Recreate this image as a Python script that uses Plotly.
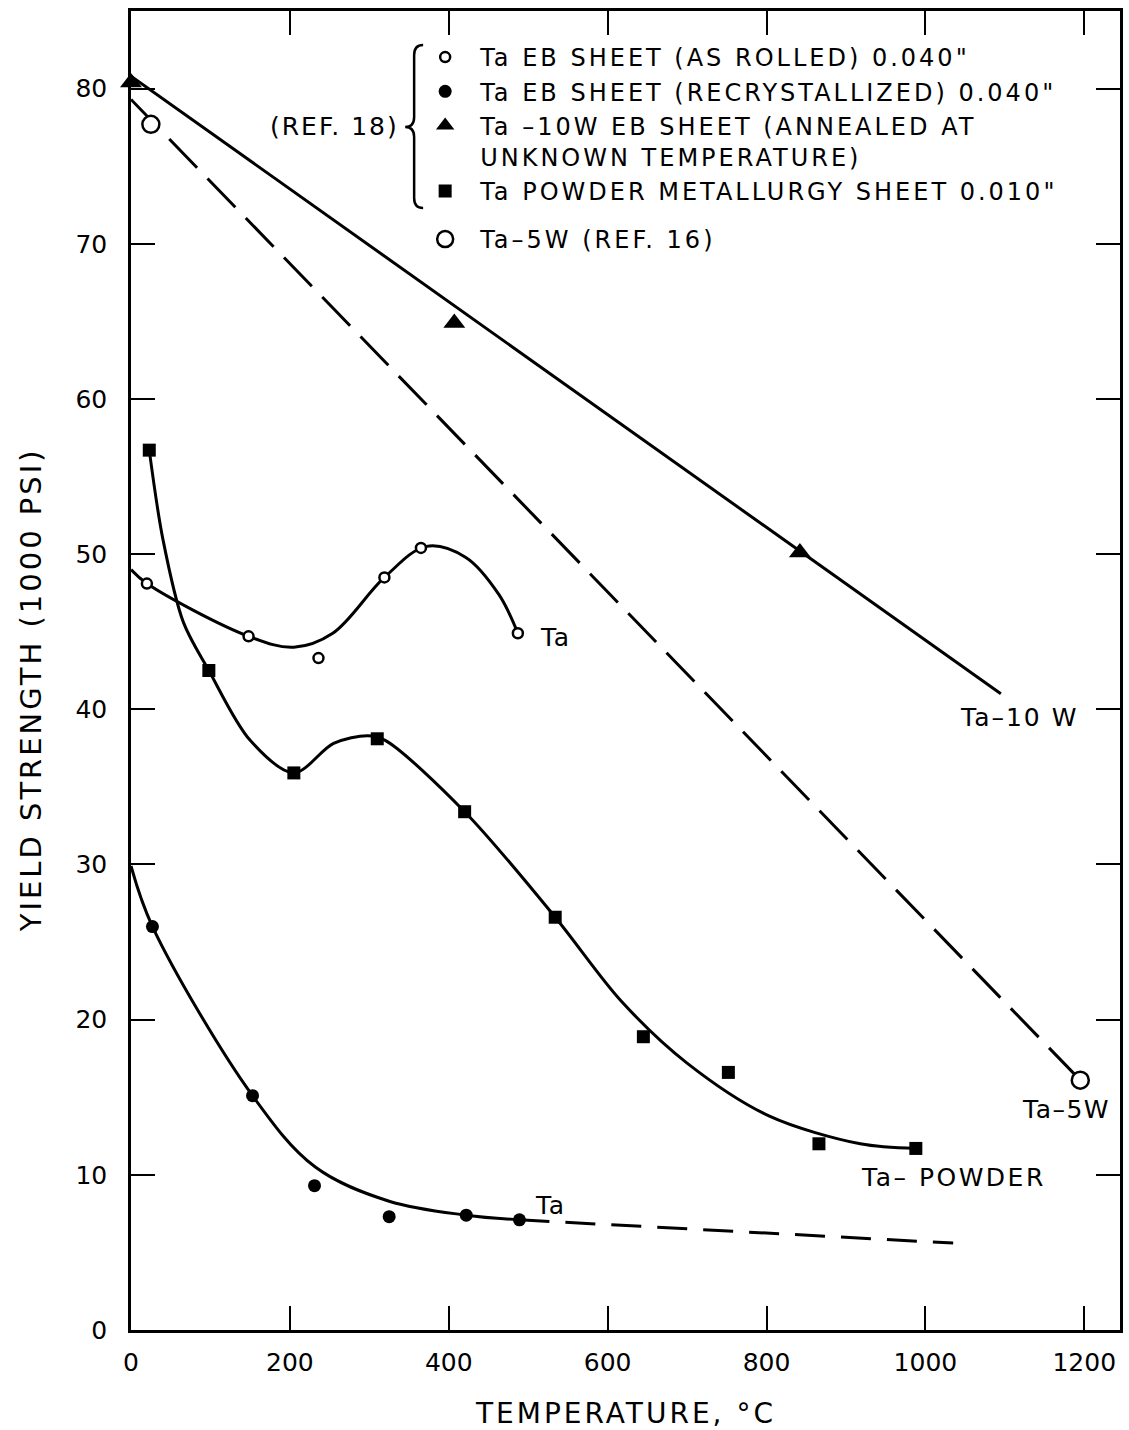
import plotly.graph_objects as go

# ---- measured data -------------------------------------------------------
# Ta EB sheet, as rolled (0.040 in.)
rolled_temp = [20, 148, 236, 319, 365, 487]
rolled_ys = [48.1, 44.7, 43.3, 48.5, 50.4, 44.9]
# faired curve through the as-rolled data
rolled_fit_temp = [0, 20, 148, 205, 254, 319, 372, 421, 463, 487]
rolled_fit_ys = [49.0, 48.1, 44.7, 44.0, 44.9, 48.5, 50.5, 49.8, 47.4, 44.9]

# Ta EB sheet, recrystallized (0.040 in.)
recryst_temp = [27, 153, 231, 325, 422, 489]
recryst_ys = [26.0, 15.1, 9.3, 7.3, 7.4, 7.1]
recryst_fit_temp = [0, 27, 153, 232, 325, 422, 489]
recryst_fit_ys = [29.9, 26.0, 15.1, 10.5, 8.3, 7.4, 7.1]
# extrapolated part of the recrystallized curve
recryst_ext_temp = [489, 1035]
recryst_ext_ys = [7.1, 5.6]

# Ta-10W EB sheet (annealed at unknown temperature)
ta10w_temp = [0, 407, 842]
ta10w_ys = [80.4, 64.9, 50.1]
ta10w_fit_temp = [0, 1095]
ta10w_fit_ys = [80.8, 41.0]

# Ta powder metallurgy sheet (0.010 in.)
powder_temp = [23, 98, 205, 310, 420, 534, 645, 752, 866, 988]
powder_ys = [56.7, 42.5, 35.9, 38.1, 33.4, 26.6, 18.9, 16.6, 12.0, 11.7]
powder_fit_temp = [23, 40, 66, 98, 150, 205, 255, 298, 320, 420, 534, 617, 700, 803, 918, 988]
powder_fit_ys = [56.7, 51.0, 45.6, 42.5, 38.0, 35.9, 37.8, 38.3, 38.0, 33.4, 26.6, 21.2, 17.2, 13.8, 12.0, 11.7]

# Ta-5W (Ref. 16)
ta5w_temp = [25, 1195]
ta5w_ys = [77.7, 16.1]
ta5w_fit_temp = [0, 1195]
ta5w_fit_ys = [79.3, 16.1]

x_ticks = [0, 200, 400, 600, 800, 1000, 1200]
y_ticks = [0, 10, 20, 30, 40, 50, 60, 70, 80]

# ---- page geometry (pixels) ---------------------------------------------
W, H = 1129, 1430
PL, PR, PT, PB = 131, 1123, 11, 1330   # plot area edges


def px_x(x):
    return (x - PL) / (PR - PL)


def px_y(y):
    return (PB - y) / (PB - PT)


FONT = "DejaVu Sans"
INK = "black"


def spaced(text, sp=2.5):
    return f'<span style="letter-spacing:{sp}px">{text}</span>'


fig = go.Figure()

# faired curves and lines (no legend entries)
fig.add_trace(go.Scatter(x=ta10w_fit_temp, y=ta10w_fit_ys, mode="lines",
                         line=dict(color=INK, width=3), showlegend=False, hoverinfo="skip"))
fig.add_trace(go.Scatter(x=ta5w_fit_temp, y=ta5w_fit_ys, mode="lines",
                         line=dict(color=INK, width=3, dash="40px,15px"),
                         showlegend=False, hoverinfo="skip"))
fig.add_trace(go.Scatter(x=rolled_fit_temp, y=rolled_fit_ys, mode="lines",
                         line=dict(color=INK, width=3, shape="spline", smoothing=1.0),
                         showlegend=False, hoverinfo="skip"))
fig.add_trace(go.Scatter(x=powder_fit_temp, y=powder_fit_ys, mode="lines",
                         line=dict(color=INK, width=3, shape="spline", smoothing=0.9),
                         showlegend=False, hoverinfo="skip"))
fig.add_trace(go.Scatter(x=recryst_fit_temp, y=recryst_fit_ys, mode="lines",
                         line=dict(color=INK, width=3, shape="spline", smoothing=1.0),
                         showlegend=False, hoverinfo="skip"))
fig.add_trace(go.Scatter(x=recryst_ext_temp, y=recryst_ext_ys, mode="lines",
                         line=dict(color=INK, width=3, dash="30px,16px"),
                         showlegend=False, hoverinfo="skip"))

# data points (these also make the legend)
LEG_SP = 3
fig.add_trace(go.Scatter(
    x=rolled_temp, y=rolled_ys, mode="markers", cliponaxis=False,
    name=spaced('Ta EB SHEET (AS ROLLED) 0.040"', LEG_SP), legendgroup="ref18",
    marker=dict(symbol="circle", size=10, color="white", line=dict(color=INK, width=2.5))))
fig.add_trace(go.Scatter(
    x=recryst_temp, y=recryst_ys, mode="markers", cliponaxis=False,
    name=spaced('Ta EB SHEET (RECRYSTALLIZED) 0.040"', LEG_SP), legendgroup="ref18",
    marker=dict(symbol="circle", size=13, color=INK)))
fig.add_trace(go.Scatter(
    x=ta10w_temp, y=ta10w_ys, mode="markers", cliponaxis=False,
    name=spaced("Ta –10W EB SHEET (ANNEALED AT", LEG_SP) + "<br>"
    + spaced("UNKNOWN TEMPERATURE)", LEG_SP),
    legendgroup="ref18",
    marker=dict(symbol="triangle-up", size=19, color=INK)))
fig.add_trace(go.Scatter(
    x=powder_temp, y=powder_ys, mode="markers", cliponaxis=False,
    name=spaced('Ta POWDER METALLURGY SHEET 0.010"', LEG_SP), legendgroup="ref18",
    marker=dict(symbol="square", size=13, color=INK)))
fig.add_trace(go.Scatter(
    x=ta5w_temp, y=ta5w_ys, mode="markers", cliponaxis=False,
    name=spaced("Ta–5W (REF. 16)", LEG_SP), legendgroup="ref16",
    marker=dict(symbol="circle", size=17, color="white", line=dict(color=INK, width=2.5))))

axis_common = dict(
    showline=True, linewidth=2.5, linecolor=INK, mirror="ticks",
    ticks="inside", ticklen=24, tickwidth=2, tickcolor=INK,
    showgrid=False, zeroline=False,
    tickfont=dict(family=FONT, size=25, color=INK),
)

fig.update_xaxes(range=[0, 1245], tickvals=x_ticks, ticktext=[str(v) for v in x_ticks],
                 ticklabelstandoff=8, **axis_common)
fig.update_yaxes(range=[0, 85], tickvals=y_ticks, ticktext=[str(v) for v in y_ticks],
                 ticklabelstandoff=16, **axis_common)

annotations = [
    # axis titles
    dict(x=0.5, y=px_y(1413), xref="paper", yref="paper", showarrow=False,
         text=spaced("TEMPERATURE, °C", 3), font=dict(family=FONT, size=28, color=INK),
         xanchor="center", yanchor="middle"),
    dict(x=px_x(31), y=px_y(690), xref="paper", yref="paper", showarrow=False,
         text=spaced("YIELD STRENGTH (1000 PSI)", 3), textangle=-90,
         font=dict(family=FONT, size=29, color=INK), xanchor="center", yanchor="middle"),
    # curve labels
    dict(x=512, y=44.6, text=spaced("Ta", 1.5), xanchor="left"),
    dict(x=1041, y=39.5, text=spaced("Ta–10 W", 2), xanchor="left"),
    dict(x=1119, y=14.2, text=spaced("Ta–5W", 1.5), xanchor="left"),
    dict(x=917, y=9.85, text=spaced("Ta– POWDER", 2.5), xanchor="left"),
    dict(x=506, y=8.05, text=spaced("Ta", 1.5), xanchor="left"),
    # reference tag next to the brace
    dict(x=px_x(402), y=px_y(127), xref="paper", yref="paper", text=spaced("(REF. 18)", 2),
         xanchor="right", yanchor="middle"),
]
for a in annotations:
    a.setdefault("xref", "x")
    a.setdefault("yref", "y")
    a.setdefault("showarrow", False)
    a.setdefault("yanchor", "middle")
    a.setdefault("font", dict(family=FONT, size=25, color=INK))

# curly brace grouping the Ref. 18 entries
bx, tip, top, bot, mid = 415, 406, 45, 208, 127
brace = (f"M {px_x(bx + 9)},{px_y(top)} Q {px_x(bx)},{px_y(top)} {px_x(bx)},{px_y(top + 10)} "
         f"L {px_x(bx)},{px_y(mid - 10)} Q {px_x(bx)},{px_y(mid)} {px_x(tip)},{px_y(mid)} "
         f"Q {px_x(bx)},{px_y(mid)} {px_x(bx)},{px_y(mid + 10)} "
         f"L {px_x(bx)},{px_y(bot - 10)} Q {px_x(bx)},{px_y(bot)} {px_x(bx + 9)},{px_y(bot)}")

fig.update_layout(
    width=W, height=H,
    margin=dict(l=PL, r=W - PR, t=PT, b=H - PB, pad=0),
    paper_bgcolor="white", plot_bgcolor="white",
    font=dict(family=FONT, color=INK),
    annotations=annotations,
    shapes=[dict(type="path", path=brace, xref="paper", yref="paper",
                 line=dict(color=INK, width=2.5))],
    legend=dict(x=px_x(411), y=px_y(35), xanchor="left", yanchor="top",
                bgcolor="rgba(0,0,0,0)", borderwidth=0,
                font=dict(family=FONT, size=24, color=INK),
                itemwidth=60, itemsizing="trace", valign="top",
                tracegroupgap=14, traceorder="grouped"),
)

fig.write_html("out.html")
